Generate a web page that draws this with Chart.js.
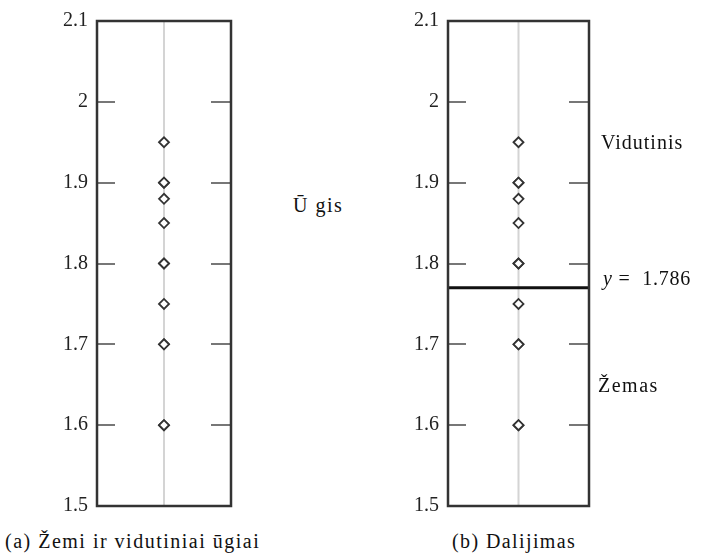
<!DOCTYPE html>
<html>
<head>
<meta charset="utf-8">
<script src="https://cdn.jsdelivr.net/npm/chart.js@4.4.1/dist/chart.umd.min.js"></script>
<style>
  body { margin: 0; background: #fff; }
  #wrap { position: relative; width: 705px; height: 558px; background: #fff; overflow: hidden; }
  .cv { position: absolute; top: 0; }
  .lbl { position: absolute; font-family: "Liberation Serif", "Times New Roman", "DejaVu Serif", serif; font-size: 20px; line-height: 22px; color: #111; white-space: nowrap; }
</style>
</head>
<body>
<div id="wrap">
  <canvas id="leftChart" class="cv" style="left:0px" width="250" height="530"></canvas>
  <canvas id="rightChart" class="cv" style="left:360px" width="250" height="530"></canvas>
  <div class="lbl" style="left:293px; top:194px; letter-spacing:1.5px;">Ū gis</div>
  <div class="lbl" style="left:601px; top:131px; letter-spacing:1px;">Vidutinis</div>
  <div class="lbl" style="left:603px; top:267px; letter-spacing:0.8px;"><i>y</i> = &nbsp;1.786</div>
  <div class="lbl" style="left:598px; top:374px; letter-spacing:1.5px;">Žemas</div>
  <div class="lbl" style="left:5px; top:530px; letter-spacing:1.5px;">(a) Žemi ir vidutiniai ūgiai</div>
  <div class="lbl" style="left:452px; top:530px; letter-spacing:1.4px;">(b) Dalijimas</div>
</div>
<script>
// heights of short and medium people (m)
const heights = [1.6, 1.6, 1.7, 1.7, 1.75, 1.8, 1.8, 1.85, 1.88, 1.9, 1.9, 1.95];
const yTickValues = [1.5, 1.6, 1.7, 1.8, 1.9, 2.0, 2.1];
const yTickLabels = ["1.5", "1.6", "1.7", "1.8", "1.9", "2", "2.1"];
const splitValue = 1.77; // where the dividing line sits in the picture

const points = heights.map(h => ({ x: 0, y: h }));
const serif = '"Liberation Serif", "Times New Roman", "DejaVu Serif", serif';

function panelPlugin(withSplit) {
  return {
    id: "panel",
    beforeDatasetsDraw(chart) {
      const { ctx, chartArea: a, scales } = chart;
      const cx = scales.x.getPixelForValue(0);
      ctx.save();
      ctx.strokeStyle = "#d4d4d4";
      ctx.lineWidth = 2;
      ctx.beginPath();
      ctx.moveTo(cx, a.top);
      ctx.lineTo(cx, a.bottom);
      ctx.stroke();
      ctx.restore();
    },
    afterDatasetsDraw(chart) {
      const { ctx, chartArea: a, scales } = chart;
      ctx.save();
      // inner tick marks on both sides
      ctx.strokeStyle = "#777";
      ctx.lineWidth = 2;
      yTickValues.slice(1, -1).forEach(v => {
        const py = Math.round(scales.y.getPixelForValue(v));
        ctx.beginPath();
        ctx.moveTo(a.left, py);
        ctx.lineTo(a.left + 18, py);
        ctx.moveTo(a.right - 20, py);
        ctx.lineTo(a.right, py);
        ctx.stroke();
      });
      if (withSplit) {
        const sy = scales.y.getPixelForValue(splitValue);
        ctx.strokeStyle = "#111";
        ctx.lineWidth = 3;
        ctx.beginPath();
        ctx.moveTo(a.left, sy);
        ctx.lineTo(a.right, sy);
        ctx.stroke();
      }
      // frame
      ctx.strokeStyle = "#333";
      ctx.lineWidth = 2.5;
      ctx.strokeRect(a.left, a.top, a.right - a.left, a.bottom - a.top);
      ctx.restore();
    }
  };
}

function makeChart(id, axisWidth, rightPad, withSplit) {
  return new Chart(document.getElementById(id), {
    type: "scatter",
    data: {
      datasets: [{
        data: points,
        pointStyle: "rectRot",
        pointRadius: 5,
        pointBorderWidth: 1.8,
        pointBorderColor: "#333",
        pointBackgroundColor: "#fff"
      }]
    },
    options: {
      responsive: false,
      animation: false,
      events: [],
      layout: { padding: { top: 19, bottom: 24, left: 0, right: rightPad } },
      plugins: { legend: { display: false }, tooltip: { enabled: false } },
      scales: {
        x: { type: "linear", min: -1, max: 1, display: false },
        y: {
          type: "linear",
          min: 1.5,
          max: 2.1,
          afterBuildTicks: s => { s.ticks = yTickValues.map(v => ({ value: v })); },
          afterFit: s => { s.width = axisWidth; },
          grid: { display: false, drawTicks: false },
          border: { display: false },
          ticks: {
            padding: 9,
            color: "#222",
            font: { family: serif, size: 20 },
            callback: (v, i) => yTickLabels[i]
          }
        }
      }
    },
    plugins: [panelPlugin(withSplit)]
  });
}

makeChart("leftChart", 97, 19, false);
makeChart("rightChart", 88, 21, true);
</script>
</body>
</html>
